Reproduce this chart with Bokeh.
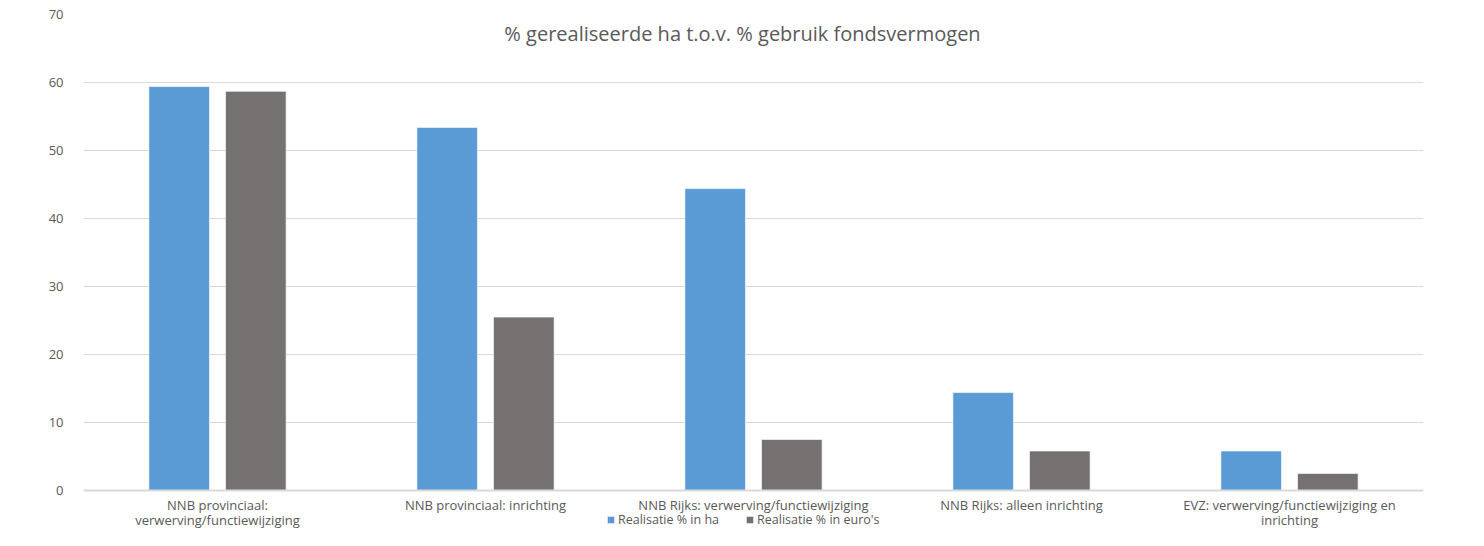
from bokeh.plotting import figure
from bokeh.models import ColumnDataSource, FixedTicker, Range1d, Label, Legend, LegendItem, Span
from bokeh.core.properties import value
from bokeh.embed import file_html
from bokeh.resources import INLINE

categories = [
    "NNB provinciaal:\nverwerving/functiewijziging",
    "NNB provinciaal: inrichting",
    "NNB Rijks: verwerving/functiewijziging",
    "NNB Rijks: alleen inrichting",
    "EVZ: verwerving/functiewijziging en\ninrichting",
]
realisatie_ha = [59.4, 53.4, 44.4, 14.4, 5.8]
realisatie_euro = [58.7, 25.5, 7.5, 5.8, 2.5]
series_names = ["Realisatie % in ha", "Realisatie % in euro's"]
title_text = "% gerealiseerde ha t.o.v. % gebruik fondsvermogen"
y_ticks = [0, 10, 20, 30, 40, 50, 60, 70]

FONT = "Open Sans"
TXT = "#595959"
BLUE = "#5B9BD5"
GREY = "#767171"

W, H = 1468, 530
LEFT, RIGHT, TOP = 83, 45, 14
ZERO_PX = 490                      # pixel row of value 0
PX_PER_UNIT = (ZERO_PX - TOP) / 70.0
y_min = -(H - ZERO_PX) / PX_PER_UNIT

centers = [i + 0.5 for i in range(len(categories))]
off = 0.143
bw = 0.226

src = ColumnDataSource(dict(
    xb=[c - off for c in centers],
    xg=[c + off for c in centers],
    ha=realisatie_ha,
    eu=realisatie_euro,
))

p = figure(width=W, height=H, output_backend="svg", toolbar_location=None,
           x_range=Range1d(0, len(categories)), y_range=Range1d(y_min, 70),
           min_border_left=LEFT, min_border_right=RIGHT, min_border_top=TOP, min_border_bottom=0)

p.outline_line_color = None
p.background_fill_color = "white"
p.border_fill_color = "white"

p.xaxis.visible = False
p.xgrid.visible = False
p.ygrid.grid_line_color = "#D9D9D9"
p.ygrid.grid_line_width = 1
p.ygrid.ticker = FixedTicker(ticks=y_ticks)
p.yaxis.ticker = FixedTicker(ticks=y_ticks)
p.yaxis.axis_line_color = None
p.yaxis.major_tick_line_color = None
p.yaxis.minor_tick_line_color = None
p.yaxis.major_label_text_color = TXT
p.yaxis.major_label_text_font = FONT
p.yaxis.major_label_text_font_size = "13px"
p.yaxis.major_label_standoff = 14

p.add_layout(Span(location=0, dimension="width", line_color="#D9D9D9", line_width=2))

r1 = p.vbar(x="xb", top="ha", width=bw, source=src, fill_color=BLUE,
            line_color="#ffffff", line_width=0.6)
r2 = p.vbar(x="xg", top="eu", width=bw, source=src, fill_color=GREY,
            line_color="#ffffff", line_width=0.6)

# category labels (drawn below the zero line)
line1_y = -(504 - ZERO_PX) / PX_PER_UNIT
line2_y = -(519 - ZERO_PX) / PX_PER_UNIT
lx, ly, lt = [], [], []
for c, lab in zip(centers, categories):
    parts = lab.split("\n")
    for k, part in enumerate(parts):
        lx.append(c)
        ly.append(line1_y if k == 0 else line2_y)
        lt.append(part)
p.text(x=lx, y=ly, text=lt, text_font=value(FONT), text_font_size="13px",
       text_color=TXT, text_align="center", text_baseline="middle")

p.add_layout(Label(x=(742 - LEFT), y=(H - 33), x_units="screen", y_units="screen",
                   text=title_text, text_font=FONT, text_font_size="20px", text_color=TXT,
                   text_align="center", text_baseline="middle"))

legend = Legend(items=[LegendItem(label=series_names[0], renderers=[r1]),
                       LegendItem(label=series_names[1], renderers=[r2])],
                orientation="horizontal", location=(606 - LEFT, 2),
                label_text_font=FONT, label_text_font_size="12.5px", label_text_color=TXT,
                label_height=14, glyph_width=9, glyph_height=9, label_standoff=3, spacing=26,
                padding=0, margin=0, border_line_color=None, background_fill_alpha=0)
p.add_layout(legend, "center")

open("out.html", "w").write(file_html(p, INLINE))
